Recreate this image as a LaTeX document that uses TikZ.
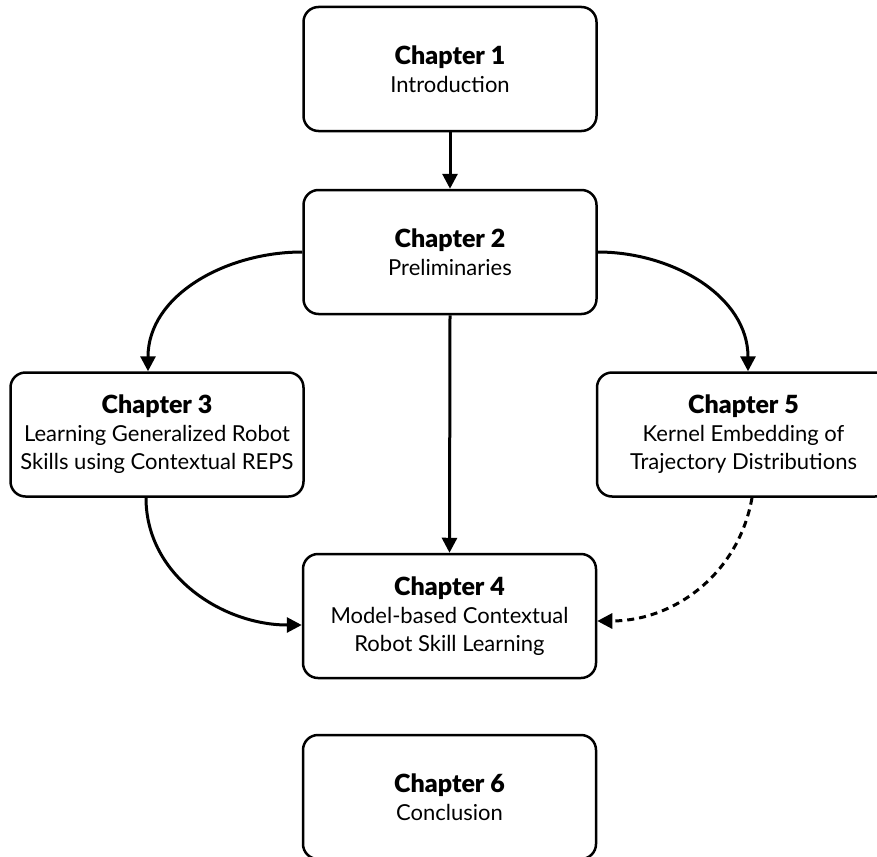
\documentclass[tikz,border=0pt]{standalone}
\usepackage{fontspec}
\setmainfont{Lato}
\newfontfamily\chapfont{Lato Black}
\usetikzlibrary{arrows.meta}
\begin{document}
\begin{tikzpicture}[x=1pt,y=1pt,
  chapbox/.style={draw, line width=2.5pt, rounded corners=15pt,
    minimum width=293pt, minimum height=124pt, align=center, inner sep=0pt,
    font=\fontsize{22}{28}\selectfont},
  link/.style={line width=3pt, -{Triangle[length=15pt,width=15pt]}},
  optlink/.style={link, dash pattern=on 7pt off 5pt}]
\useasboundingbox (0,0) rectangle (877,-856);
\newcommand{\chap}[1]{{\fontsize{25}{29}\selectfont\chapfont #1}}
\node[chapbox] (c1) at (450,-69) {\chap{Chapter 1}\\Introduction};
\node[chapbox] (c2) at (450,-252) {\chap{Chapter 2}\\Preliminaries};
\node[chapbox] (c3) at (157,-434.5) {\chap{Chapter 3}\\Learning Generalized Robot\\Skills using Contextual REPS};
\node[chapbox] (c5) at (743.5,-434.5) {\chap{Chapter 5}\\Kernel Embedding of\\Trajectory Distributions};
\node[chapbox] (c4) at (449.5,-616) {\chap{Chapter 4}\\Model-based Contextual\\Robot Skill Learning};
\node[chapbox] (c6) at (449.5,-797) {\chap{Chapter 6}\\Conclusion};
\draw[link] (c1.south) -- (c2.north);
\draw[link] (c2.south) -- (c4.north);
\draw[link] (c2.west) to[out=180,in=90] ([xshift=-9pt]c3.north);
\draw[link] (c2.east) to[out=0,in=90] ([xshift=4.5pt]c5.north);
\draw[link] ([xshift=-11pt]c3.south) to[out=-90,in=180] ([yshift=-9pt]c4.west);
\draw[optlink] ([xshift=8.5pt]c5.south) to[out=-100,in=0] ([yshift=-5pt]c4.east);
\end{tikzpicture}
\end{document}
